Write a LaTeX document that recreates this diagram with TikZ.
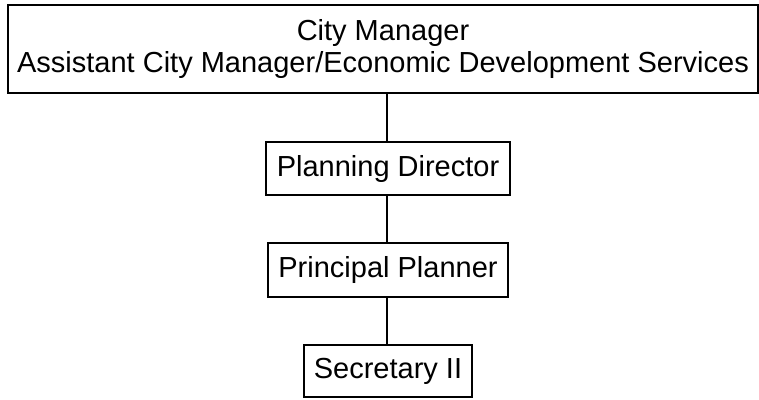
\documentclass[tikz,border=0pt]{standalone}
\usepackage{fontspec}
\setmainfont{Liberation Sans}
\begin{document}
\begin{tikzpicture}[x=1pt,y=-1pt,
  orgbox/.style={draw=black,line width=1.3pt,inner sep=0pt,align=center,
    font=\fontsize{29}{32}\selectfont},
  link/.style={draw=black,line width=1.3pt}]
\useasboundingbox (0,0) rectangle (759,399);
\node[orgbox,minimum width=750pt,minimum height=88pt] (cm) at (383,49)
  {City Manager\\Assistant City Manager/Economic Development Services};
\node[orgbox,minimum width=244pt,minimum height=53pt] (pd) at (388,168.5) {Planning Director};
\node[orgbox,minimum width=240pt,minimum height=54pt] (pp) at (388,270) {Principal Planner};
\node[orgbox,minimum width=168pt,minimum height=52pt] (s2) at (388,371) {Secretary II};
\draw[link] (cm.south -| 387,0) -- (pd.north -| 387,0);
\draw[link] (pd.south -| 387,0) -- (pp.north -| 387,0);
\draw[link] (pp.south -| 387,0) -- (s2.north -| 387,0);
\end{tikzpicture}
\end{document}
